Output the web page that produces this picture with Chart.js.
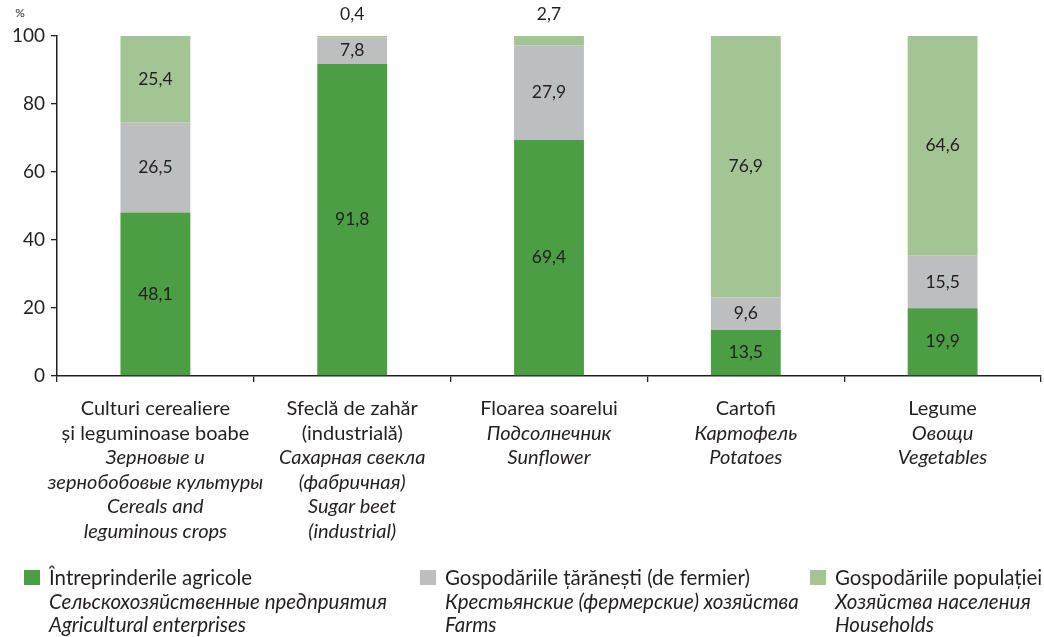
<!DOCTYPE html>
<html>
<head>
<meta charset="utf-8">
<script src="https://cdn.jsdelivr.net/npm/chart.js@4/dist/chart.umd.min.js"></script>
<style>
  body { margin: 0; background: #fff; }
  #wrap { position: relative; width: 1044px; height: 637px; }
  #legend { position: absolute; left: 0; top: 566px; width: 1044px; font-family: Lato, sans-serif; color: #231f20; font-size: 20.5px; }
  .item { position: absolute; top: 0; line-height: 23.5px; white-space: nowrap; }
  .item .box { position: absolute; left: -25px; top: 4px; width: 16px; height: 15px; }
  .item i { display: block; }
</style>
</head>
<body>
<div id="wrap">
  <canvas id="chart" width="1044" height="637"></canvas>
  <div id="legend"></div>
</div>
<script>
// categories: first lines upright (Romanian), the rest italic (Russian / English)
const catUpright = [
  ['Culturi cerealiere', 'și leguminoase boabe'],
  ['Sfeclă de zahăr', '(industrială)'],
  ['Floarea soarelui'],
  ['Cartofi'],
  ['Legume']
];
const catItalic = [
  ['Зерновые и', 'зернобобовые культуры', 'Cereals and', 'leguminous crops'],
  ['Сахарная свекла', '(фабричная)', 'Sugar beet', '(industrial)'],
  ['Подсолнечник', 'Sunflower'],
  ['Картофель', 'Potatoes'],
  ['Овощи', 'Vegetables']
];

const enterprises = [48.1, 91.8, 69.4, 13.5, 19.9];
const farms = [26.5, 7.8, 27.9, 9.6, 15.5];
const households = [25.4, 0.4, 2.7, 76.9, 64.6];

const yTicks = [0, 20, 40, 60, 80, 100];

const seriesNames = [
  ['Întreprinderile agricole', 'Сельскохозяйственные предприятия', 'Agricultural enterprises'],
  ['Gospodăriile țărănești (de fermier)', 'Крестьянские (фермерские) хозяйства', 'Farms'],
  ['Gospodăriile populației', 'Хозяйства населения', 'Households']
];
const colors = ['#4c9e45', '#bcbec0', '#a3c594'];

const textColor = '#231f20';
const font = 'Lato, sans-serif';

// value labels inside segments, above the bar when the segment is too thin
const valueLabels = {
  id: 'valueLabels',
  afterDatasetsDraw(chart) {
    const ctx = chart.ctx;
    ctx.save();
    ctx.font = '17.5px ' + font;
    ctx.fillStyle = textColor;
    ctx.textAlign = 'center';
    ctx.textBaseline = 'middle';
    chart.data.datasets.forEach((ds, d) => {
      chart.getDatasetMeta(d).data.forEach((bar, i) => {
        const v = ds.data[i];
        const txt = v.toFixed(1).replace('.', ',');
        const h = bar.base - bar.y;
        if (h < 16) {
          ctx.fillText(txt, bar.x, bar.y - 22);
        } else {
          ctx.fillText(txt, bar.x, (bar.y + bar.base) / 2);
        }
      });
    });
    ctx.restore();
  }
};

// multi-line category labels with mixed font styles, plus the % unit
const categoryLabels = {
  id: 'categoryLabels',
  afterDraw(chart) {
    const ctx = chart.ctx;
    const xs = chart.scales.x;
    const top = chart.chartArea.bottom + 33;
    ctx.save();
    ctx.fillStyle = textColor;
    ctx.textAlign = 'center';
    ctx.textBaseline = 'middle';
    catUpright.forEach((lines, i) => {
      const x = xs.getPixelForValue(i);
      let y = top;
      ctx.font = '20px ' + font;
      lines.forEach(l => { ctx.fillText(l, x, y); y += 24.5; });
      ctx.font = 'italic 20px ' + font;
      catItalic[i].forEach(l => { ctx.fillText(l, x, y); y += 24.5; });
    });
    ctx.font = '12px ' + font;
    ctx.fillText('%', 20, chart.chartArea.top - 23);
    ctx.restore();
  }
};

new Chart(document.getElementById('chart'), {
  type: 'bar',
  data: {
    labels: catUpright.map(l => l.join(' ')),
    datasets: [
      { label: seriesNames[0][0], data: enterprises, backgroundColor: colors[0] },
      { label: seriesNames[1][0], data: farms, backgroundColor: colors[1] },
      { label: seriesNames[2][0], data: households, backgroundColor: colors[2] }
    ]
  },
  options: {
    responsive: false,
    animation: false,
    layout: { padding: { left: 0, right: 3, top: 36, bottom: 255 } },
    datasets: { bar: { categoryPercentage: 1, barPercentage: 0.355 } },
    plugins: { legend: { display: false }, tooltip: { enabled: false } },
    scales: {
      x: {
        stacked: true,
        ticks: { display: false },
        grid: { offset: true, drawOnChartArea: false, tickLength: 6, color: textColor, lineWidth: 1.3 },
        border: { color: textColor, width: 1.5 },
        afterFit(s) { s.height = 6; }
      },
      y: {
        stacked: true,
        min: 0,
        max: 100,
        afterBuildTicks(s) { s.ticks = yTicks.map(v => ({ value: v })); },
        ticks: { font: { family: font, size: 19 }, color: textColor, padding: 6 },
        grid: { drawOnChartArea: false, tickLength: 6, color: textColor, lineWidth: 1.3 },
        border: { color: textColor, width: 1.5 },
        afterFit(s) { s.width = 57; }
      }
    }
  },
  plugins: [valueLabels, categoryLabels]
});

// legend built from the series names
const legendLeft = [49, 445, 835];
document.getElementById('legend').innerHTML = seriesNames.map((n, i) =>
  `<div class="item" style="left:${legendLeft[i]}px"><span class="box" style="background:${colors[i]}"></span>${n[0]}<i>${n[1]}</i><i>${n[2]}</i></div>`
).join('');
</script>
</body>
</html>
